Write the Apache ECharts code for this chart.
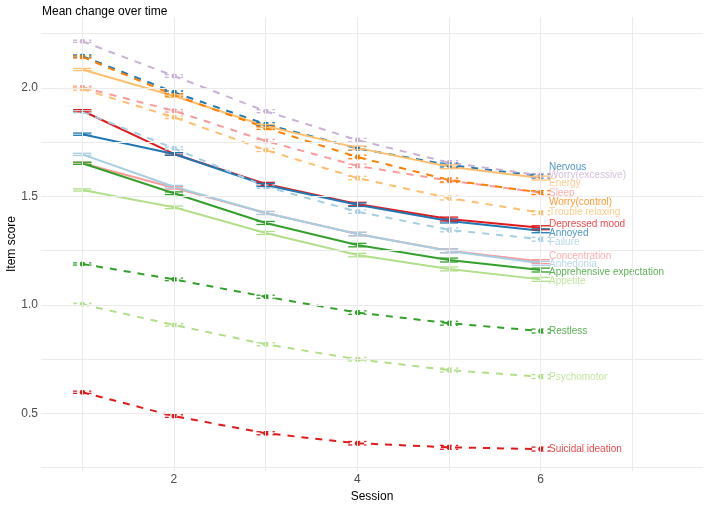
<!DOCTYPE html>
<html>
<head>
<meta charset="utf-8">
<script src="https://cdn.jsdelivr.net/npm/echarts@6/dist/echarts.min.js"></script>
<style>html,body{margin:0;padding:0;background:#fff}#c{width:709px;height:506px}</style>
</head>
<body>
<div id="c"></div>
<script>
// ---- data ----
const sessions = [1, 2, 3, 4, 5, 6];
const xTickLabels = [2, 4, 6];
const yTickLabels = [0.5, 1.0, 1.5, 2.0];
const items = ['Nervous', 'Worry(excessive)', 'Energy', 'Sleep', 'Worry(control)', 'Trouble relaxing',
  'Depressed mood', 'Annoyed', 'Failure', 'Concentration', 'Anhedonia', 'Apprehensive expectation',
  'Appetite', 'Restless', 'Psychomotor', 'Suicidal ideation'];
const nervous         = [2.147, 1.980, 1.833, 1.722, 1.645, 1.594];
const worryExcessive  = [2.215, 2.055, 1.893, 1.760, 1.656, 1.597];
const energy          = [2.085, 1.963, 1.825, 1.724, 1.637, 1.585];
const sleep           = [2.003, 1.895, 1.756, 1.641, 1.573, 1.518];
const worryControl    = [2.143, 1.968, 1.816, 1.682, 1.576, 1.518];
const troubleRelaxing = [1.995, 1.865, 1.714, 1.585, 1.493, 1.425];
const depressedMood   = [1.895, 1.696, 1.558, 1.465, 1.396, 1.356];
const annoyed         = [1.787, 1.696, 1.553, 1.462, 1.387, 1.342];
const failure         = [1.891, 1.722, 1.545, 1.430, 1.346, 1.303];
const concentration   = [1.653, 1.540, 1.424, 1.327, 1.250, 1.200];
const anhedonia       = [1.694, 1.545, 1.424, 1.327, 1.249, 1.192];
const apprehensive    = [1.653, 1.515, 1.378, 1.276, 1.207, 1.161];
const appetite        = [1.530, 1.450, 1.332, 1.230, 1.166, 1.118];
const restless        = [1.189, 1.118, 1.038, 0.965, 0.916, 0.880];
const psychomotor     = [1.003, 0.908, 0.819, 0.750, 0.700, 0.670];
const suicidal        = [0.598, 0.488, 0.409, 0.363, 0.344, 0.336];
// standard errors by session (approx.)
const seBySession     = [0.005, 0.006, 0.007, 0.008, 0.009, 0.009];
// repelled label anchor values (item score units)
const labelScore = [1.635, 1.599, 1.559, 1.516, 1.473, 1.425, 1.372, 1.330, 1.287,
  1.223, 1.188, 1.152, 1.109, 0.877, 0.667, 0.335];

// ---- styling ----
const values = [nervous, worryExcessive, energy, sleep, worryControl, troubleRelaxing,
  depressedMood, annoyed, failure, concentration, anhedonia, apprehensive, appetite,
  restless, psychomotor, suicidal];
const colors = ['#1F78B4', '#CAB2D6', '#FDBF6F', '#FB9A99', '#FF7F00', '#FDBF6F',
  '#E31A1C', '#1F78B4', '#A6CEE3', '#FB9A99', '#A6CEE3', '#33A02C', '#B2DF8A',
  '#33A02C', '#B2DF8A', '#E31A1C'];
const dashed = [true, true, false, true, true, true, false, false, true, false, false, false, false, true, true, true];

const FONT = '"Liberation Sans", Arial, Helvetica, sans-serif';
const series = [];

// gridlines
series.push({
  type: 'line', data: [], silent: true, z: 0,
  markLine: {
    silent: true, symbol: 'none', label: {show: false}, animation: false,
    lineStyle: {color: '#ebebeb', width: 1, type: 'solid'},
    data: [0.25, 0.5, 0.75, 1.0, 1.25, 1.5, 1.75, 2.0, 2.25].map(v => ({yAxis: v}))
      .concat([1, 2, 3, 4, 5, 6, 7].map(v => ({xAxis: v})))
  }
});

items.forEach((name, i) => {
  const col = colors[i];
  series.push({
    name, type: 'line', z: 2,
    data: sessions.map((s, k) => [s, values[i][k]]),
    showSymbol: dashed[i], symbol: 'circle', symbolSize: 5,
    itemStyle: {color: col},
    lineStyle: {color: col, width: 2, type: dashed[i] ? [7, 7] : 'solid'},
    animation: false
  });
  series.push({
    type: 'custom', z: 3, silent: true, animation: false,
    data: sessions.map((s, k) => [s, values[i][k], seBySession[k]]),
    renderItem: function (params, api) {
      const x = api.value(0), y = api.value(1), se = api.value(2);
      const tl = api.coord([x - 0.1, y + se]), tr = api.coord([x + 0.1, y + se]);
      const bl = api.coord([x - 0.1, y - se]), br = api.coord([x + 0.1, y - se]);
      const t = api.coord([x, y + se]), b = api.coord([x, y - se]);
      const st = {stroke: col, lineWidth: 1.3, lineDash: dashed[i] ? [4, 4] : null, fill: null};
      return {type: 'group', children: [
        {type: 'line', shape: {x1: tl[0], y1: tl[1], x2: tr[0], y2: tr[1]}, style: st},
        {type: 'line', shape: {x1: bl[0], y1: bl[1], x2: br[0], y2: br[1]}, style: st},
        {type: 'line', shape: {x1: t[0], y1: t[1], x2: b[0], y2: b[1]}, style: st}
      ]};
    }
  });
  series.push({
    type: 'scatter', z: 4, silent: true, animation: false,
    data: [[6.09, labelScore[i]]],
    symbolSize: 0,
    label: {show: true, position: 'right', distance: 0, formatter: name,
      color: col, fontSize: 10, fontFamily: FONT}
  });
});

const chart = echarts.init(document.getElementById('c'), null, {renderer: 'canvas'});
chart.setOption({
  backgroundColor: '#ffffff',
  animation: false,
  title: {text: 'Mean change over time', left: 37, top: 1,
    textStyle: {fontSize: 12, fontWeight: 'normal', color: '#000', fontFamily: FONT}},
  grid: {left: 41, right: 6, top: 17, bottom: 35, containLabel: false, outerBoundsMode: 'none'},
  xAxis: {
    type: 'value', min: 0.55, max: 7.77,
    name: 'Session', nameLocation: 'middle', nameGap: 20, nameMoveOverlap: false,
    nameTextStyle: {fontSize: 12, color: '#000', fontFamily: FONT},
    axisLine: {show: false}, axisTick: {show: false}, splitLine: {show: false},
    axisLabel: {customValues: xTickLabels, color: '#4d4d4d', fontSize: 12, fontFamily: FONT, margin: 3}
  },
  yAxis: {
    type: 'value', min: 0.235, max: 2.327,
    name: 'Item score', nameLocation: 'middle', nameGap: 23, nameRotate: 90, nameMoveOverlap: false,
    nameTextStyle: {fontSize: 12, color: '#000', fontFamily: FONT},
    axisLine: {show: false}, axisTick: {show: false}, splitLine: {show: false},
    axisLabel: {customValues: yTickLabels, color: '#4d4d4d', fontSize: 12, fontFamily: FONT, margin: 3,
      formatter: v => v.toFixed(1)}
  },
  series
});
</script>
</body>
</html>
